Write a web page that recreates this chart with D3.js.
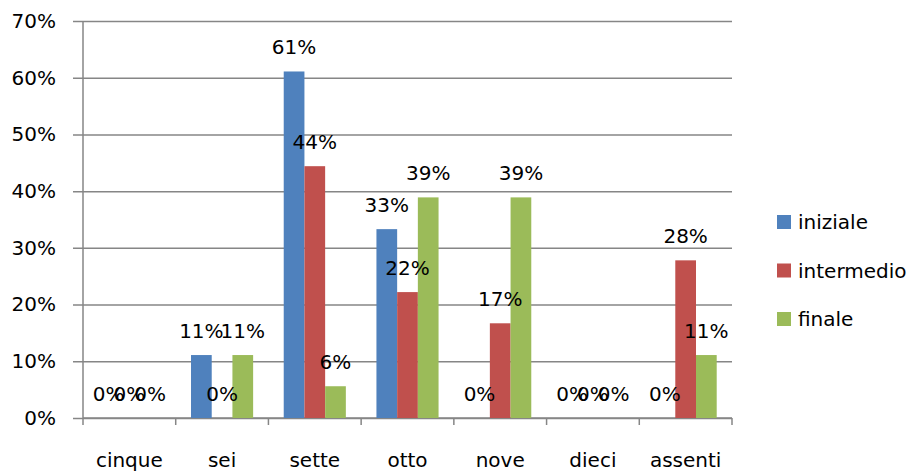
<!DOCTYPE html>
<html>
<head>
<meta charset="utf-8">
<script src="https://cdn.jsdelivr.net/npm/d3@7"></script>
<style>
  body { margin: 0; background: #fff; }
  text { font-family: "DejaVu Sans", sans-serif; fill: #000; }
</style>
</head>
<body>
<div id="chart"></div>
<script>
// data
var categories = ["cinque", "sei", "sette", "otto", "nove", "dieci", "assenti"];
var seriesNames = ["iniziale", "intermedio", "finale"];
var iniziale   = [0, 0.111, 0.611, 0.333, 0, 0, 0];
var intermedio = [0, 0, 0.444, 0.222, 0.167, 0, 0.278];
var finale     = [0, 0.111, 0.056, 0.389, 0.389, 0, 0.111];
var yTicks = [0, 0.1, 0.2, 0.3, 0.4, 0.5, 0.6, 0.7];
var colors = ["#4F81BD", "#C0504D", "#9BBB59"];

var series = [iniziale, intermedio, finale];

var width = 921, height = 474;
var plotLeft = 83, plotRight = 732, plotTop = 21, plotBottom = 418;

var svg = d3.select("#chart").append("svg")
    .attr("width", width)
    .attr("height", height);

var x = d3.scaleBand()
    .domain(categories)
    .range([plotLeft, plotRight])
    .paddingInner(0.33)
    .paddingOuter(0.165);

var xs = d3.scaleBand()
    .domain(seriesNames)
    .range([0, x.bandwidth()]);

var y = d3.scaleLinear()
    .domain([0, 0.7])
    .range([plotBottom, plotTop]);

// gridlines + y axis labels
var yAxis = d3.axisLeft(y)
    .tickValues(yTicks)
    .tickSize(-(plotRight - plotLeft))
    .tickPadding(27)
    .tickFormat(d3.format(".0%"));

var gy = svg.append("g")
    .attr("transform", "translate(" + plotLeft + ",0)")
    .call(yAxis);
gy.select(".domain").remove();
gy.selectAll(".tick line")
    .attr("x1", -10)
    .attr("stroke", "#868686")
    .attr("stroke-width", 1.5);
gy.selectAll(".tick text")
    .attr("font-size", "20px")
    .style("font-family", "DejaVu Sans")
    .attr("fill", "#000");

// left axis line
svg.append("line")
    .attr("x1", plotLeft).attr("x2", plotLeft)
    .attr("y1", y(0.7)).attr("y2", plotBottom)
    .attr("stroke", "#868686").attr("stroke-width", 1.5);

// bottom axis
var step = x.step();
var gx = svg.append("g");
gx.append("line")
    .attr("x1", plotLeft).attr("x2", plotRight)
    .attr("y1", plotBottom).attr("y2", plotBottom)
    .attr("stroke", "#868686").attr("stroke-width", 1.5);
gx.selectAll(".tk")
    .data(d3.range(categories.length + 1))
    .enter().append("line")
    .attr("x1", function(i) { return plotLeft + i * step; })
    .attr("x2", function(i) { return plotLeft + i * step; })
    .attr("y1", plotBottom).attr("y2", plotBottom + 7)
    .attr("stroke", "#868686").attr("stroke-width", 1.5);
gx.selectAll(".cat")
    .data(categories)
    .enter().append("text")
    .attr("x", function(d) { return x(d) + x.bandwidth() / 2; })
    .attr("y", 467)
    .attr("text-anchor", "middle")
    .attr("font-size", "20px")
    .text(function(d) { return d; });

// bars
var groups = svg.selectAll(".series")
    .data(series)
    .enter().append("g")
    .attr("fill", function(d, i) { return colors[i]; });

groups.each(function(vals, si) {
  var g = d3.select(this);
  g.selectAll("rect")
    .data(vals)
    .enter().append("rect")
    .attr("x", function(d, i) { return x(categories[i]) + xs(seriesNames[si]); })
    .attr("width", xs.bandwidth())
    .attr("y", function(d) { return y(d); })
    .attr("height", function(d) { return plotBottom - y(d); });
});

// value labels drawn after all bars so they sit on top
groups.each(function(vals, si) {
  svg.append("g").selectAll("text")
    .data(vals)
    .enter().append("text")
    .attr("x", function(d, i) { return x(categories[i]) + xs(seriesNames[si]) + xs.bandwidth() / 2; })
    .attr("y", function(d) { return y(d) - 17; })
    .attr("text-anchor", "middle")
    .attr("font-size", "20px")
    .text(function(d) { return d3.format(".0%")(d); });
});

// legend
var legend = svg.selectAll(".legend")
    .data(seriesNames)
    .enter().append("g")
    .attr("transform", function(d, i) { return "translate(777," + (222 + i * 48.5) + ")"; });
legend.append("rect")
    .attr("x", 0).attr("y", -7)
    .attr("width", 14).attr("height", 14)
    .attr("fill", function(d, i) { return colors[i]; });
legend.append("text")
    .attr("x", 21).attr("y", 7)
    .attr("font-size", "20px")
    .text(function(d) { return d; });
</script>
</body>
</html>
